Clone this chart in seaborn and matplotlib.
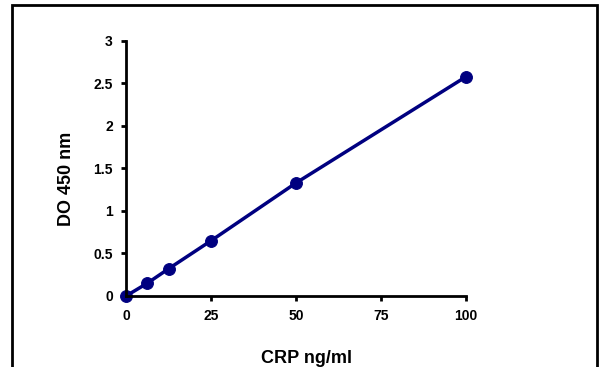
import pandas as pd
import seaborn as sns
import matplotlib.pyplot as plt
from matplotlib.patches import Rectangle

# Standard curve values
crp_conc = [0, 6.25, 12.5, 25, 50, 100]
od_450 = [0.0, 0.15, 0.32, 0.65, 1.33, 2.58]
x_ticks = [0, 25, 50, 75, 100]
y_ticks = [0, 0.5, 1, 1.5, 2, 2.5, 3]
y_tick_labels = ["0", "0.5", "1", "1.5", "2", "2.5", "3"]

df = pd.DataFrame({"crp": crp_conc, "od": od_450})

sns.set_style("white")
plt.rcParams['font.family'] = ['Liberation Sans', 'DejaVu Sans']
plt.rcParams['font.weight'] = 'bold'
plt.rcParams['text.color'] = 'black'
plt.rcParams['axes.labelcolor'] = 'black'

fig = plt.figure(figsize=(6.01, 3.67), dpi=100)
ax = fig.add_axes([0.2097, 0.1935, 0.5657, 0.6948])

sns.lineplot(data=df, x="crp", y="od", ax=ax, color="#000080",
             linewidth=2.5, marker="o", markersize=8.5,
             markeredgecolor="#000080", clip_on=False)

ax.set_xlim(0, 100)
ax.set_ylim(0, 3)
ax.set_xticks(x_ticks)
ax.set_yticks(y_ticks)
ax.set_yticklabels(y_tick_labels)

for side in ["top", "right"]:
    ax.spines[side].set_visible(False)
for side in ["left", "bottom"]:
    ax.spines[side].set_linewidth(2)
    ax.spines[side].set_color("black")

ax.tick_params(axis="both", direction="out", length=3.5, width=2,
               labelsize=10, pad=6, colors="black",
               bottom=True, left=True)
for lbl in ax.get_xticklabels() + ax.get_yticklabels():
    lbl.set_fontweight("bold")

ax.set_xlabel("CRP ng/ml", fontsize=13, fontweight="bold", color="black")
ax.set_ylabel("DO 450 nm", fontsize=13, fontweight="bold", color="black")
ax.xaxis.set_label_coords(0.53, -0.21)
ax.yaxis.set_label_coords(-0.15, 0.46)

# outer frame around the chart area (cut off at the bottom)
fig.patches.append(Rectangle((12 / 601, -0.05), 585 / 601, 1 - 5 / 367 + 0.05,
                             transform=fig.transFigure, fill=False,
                             edgecolor="black", linewidth=2))

fig.savefig("out.png", dpi=100)
